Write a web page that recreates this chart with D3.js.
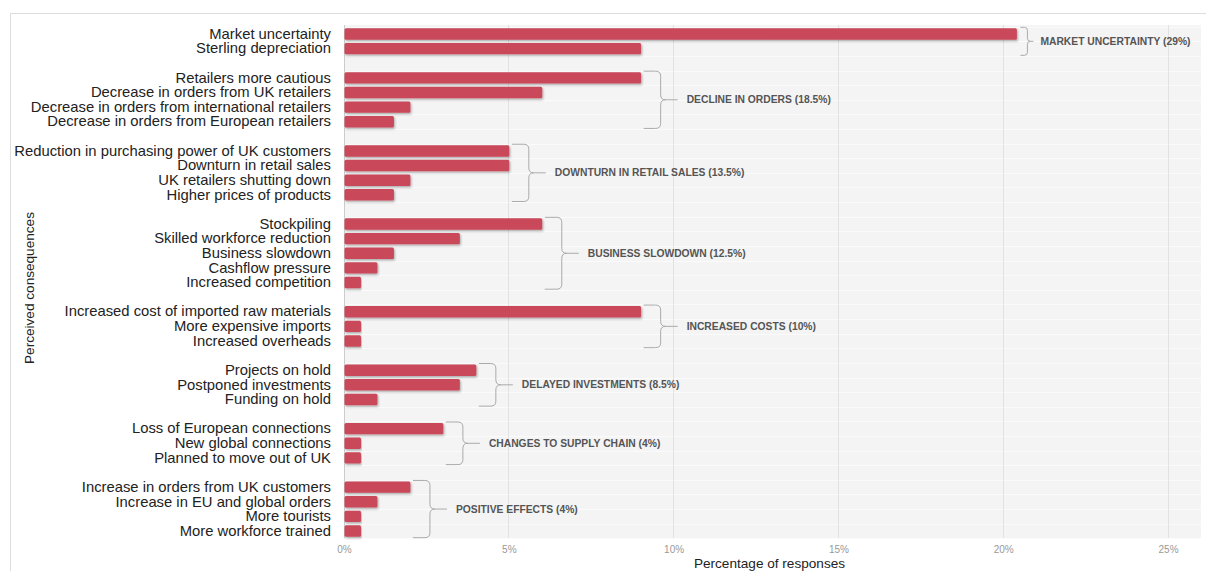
<!DOCTYPE html>
<html lang="en">
<head>
	<title>Perceived consequences</title>
	<meta charset="utf-8">
	<script src="https://d3js.org/d3.v7.min.js"></script>
	<style type="text/css">
		body {
			margin: 0;
			background: #fff;
			font-family: "Liberation Sans", Arial, sans-serif;
		}

		.group-label {
			font-size: 10.3px;
			font-weight: bold;
			fill: #555;
		}

		.tick text {
			font-size: 10px;
			fill: #999;
		}

		.tick line,
		path.domain {
			display: none;
		}

		.grid {
			stroke: #e2e2e2;
			stroke-width: 1;
			shape-rendering: crispEdges;
		}

		.brace {
			fill: none;
			stroke: #aaa;
			stroke-width: 1;
		}

		.axis-title {
			font-size: 13.6px;
			fill: #222;
		}
	</style>
</head>
<body>
	<div id="vis"></div>

	<script type="text/javascript">

		/* Data */
		/* ==== */

		var groupNames = [
			"MARKET UNCERTAINTY (29%)",
			"DECLINE IN ORDERS (18.5%)",
			"DOWNTURN IN RETAIL SALES (13.5%)",
			"BUSINESS SLOWDOWN (12.5%)",
			"INCREASED COSTS (10%)",
			"DELAYED INVESTMENTS (8.5%)",
			"CHANGES TO SUPPLY CHAIN (4%)",
			"POSITIVE EFFECTS (4%)"
		];

		var groupSizes = [2, 4, 4, 5, 3, 3, 3, 4];

		var categories = [
			"Market uncertainty", "Sterling depreciation",
			"Retailers more cautious", "Decrease in orders from UK retailers",
			"Decrease in orders from international retailers", "Decrease in orders from European retailers",
			"Reduction in purchasing power of UK customers", "Downturn in retail sales",
			"UK retailers shutting down", "Higher prices of products",
			"Stockpiling", "Skilled workforce reduction", "Business slowdown",
			"Cashflow pressure", "Increased competition",
			"Increased cost of imported raw materials", "More expensive imports", "Increased overheads",
			"Projects on hold", "Postponed investments", "Funding on hold",
			"Loss of European connections", "New global connections ", "Planned to move out of UK",
			"Increase in orders from UK customers", "Increase in EU and global orders",
			"More tourists", "More workforce trained"
		];

		var values = [
			20.4, 9,
			9, 6, 2, 1.5,
			5, 5, 2, 1.5,
			6, 3.5, 1.5, 1, 0.5,
			9, 0.5, 0.5,
			4, 3.5, 1,
			3, 0.5, 0.5,
			2, 1, 0.5, 0.5
		];

		var xTicks = [0, 5, 10, 15, 20, 25];


		/* Build rows, with an empty slot between groups */
		/* ---------------------------------------------- */

		var rows = [];
		var slots = [];
		var groups = [];
		var k = 0;
		groupSizes.forEach(function (n, g) {
			if (g > 0) slots.push('gap' + g);
			var grp = { name: groupNames[g], rows: [] };
			for (var i = 0; i < n; i++) {
				var r = { id: 'r' + k, label: categories[k], value: values[k], group: g };
				rows.push(r);
				slots.push(r.id);
				grp.rows.push(r);
				k++;
			}
			groups.push(grp);
		});


		/* Set up */
		/* ====== */

		var width = 1206, height = 571;
		var plot = { left: 344, right: 1201, top: 26.7, bottom: 538.3 };

		var svg = d3.select('#vis')
			.append('svg')
			.attr('width', width)
			.attr('height', height);

		var defs = svg.append('defs');
		var shadow = defs.append('filter')
			.attr('id', 'shadow')
			.attr('x', '-5%').attr('y', '-30%')
			.attr('width', '110%').attr('height', '170%');
		shadow.append('feDropShadow')
			.attr('dx', 1).attr('dy', 1.5)
			.attr('stdDeviation', 1)
			.attr('flood-color', '#000')
			.attr('flood-opacity', 0.3);

		/* Scales */

		var xScale = d3.scaleLinear()
			.domain([0, 26])
			.range([plot.left, plot.right]);

		var yScale = d3.scaleBand()
			.domain(slots)
			.range([plot.top, plot.bottom])
			.paddingInner(0.22)
			.paddingOuter(0.11);


		/* Frame and background */
		/* -------------------- */

		svg.append('line')
			.attr('x1', 10).attr('x2', width)
			.attr('y1', 13.5).attr('y2', 13.5)
			.attr('stroke', '#ddd');
		svg.append('line')
			.attr('x1', 10.5).attr('x2', 10.5)
			.attr('y1', 13).attr('y2', height)
			.attr('stroke', '#ddd');

		svg.append('rect')
			.attr('x', plot.left)
			.attr('y', plot.top - 1.5)
			.attr('width', plot.right - plot.left)
			.attr('height', plot.bottom - plot.top + 1.5)
			.attr('fill', '#f4f4f4');

		// faint row stripes
		svg.append('g')
			.selectAll('line')
			.data(slots)
			.enter()
			.append('line')
			.attr('x1', plot.left).attr('x2', plot.right)
			.attr('y1', function (d) { return Math.round(yScale(d) - yScale.step() * 0.11) + 0.5; })
			.attr('y2', function (d) { return Math.round(yScale(d) - yScale.step() * 0.11) + 0.5; })
			.attr('stroke', '#fbfbfb');

		svg.append('g')
			.selectAll('line')
			.data(xTicks)
			.enter()
			.append('line')
			.attr('class', 'grid')
			.attr('x1', function (d) { return xScale(d); })
			.attr('x2', function (d) { return xScale(d); })
			.attr('y1', plot.top - 1.5)
			.attr('y2', plot.bottom)
			.style('stroke', function (d) { return d === 0 ? '#ccc' : '#e2e2e2'; });


		/* Axes */
		/* ---- */

		var xAxis = d3.axisBottom(xScale)
			.tickValues(xTicks)
			.tickSize(0)
			.tickPadding(8)
			.tickFormat(function (d) { return d + '%'; });

		svg.append('g')
			.attr('class', 'x axis')
			.attr('transform', 'translate(0,' + plot.bottom + ')')
			.call(xAxis);

		var yAxis = d3.axisLeft(yScale)
			.tickSize(0)
			.tickPadding(13)
			.tickFormat(function (d) {
				var r = rows.find(function (x) { return x.id === d; });
				return r ? r.label : '';
			});

		var yAxisDraw = svg.append('g')
			.attr('class', 'y axis')
			.attr('transform', 'translate(' + plot.left + ',0)')
			.call(yAxis);

		yAxisDraw.selectAll('text')
			.style('font-size', '14.8px')
			.style('fill', '#222')
			.style('font-family', '"Liberation Sans", Arial, sans-serif');

		svg.append('text')
			.attr('class', 'axis-title')
			.attr('x', (plot.left + plot.right) / 2 - 3)
			.attr('y', 568)
			.attr('text-anchor', 'middle')
			.text('Percentage of responses');

		svg.append('text')
			.attr('class', 'axis-title')
			.attr('transform', 'translate(34,' + 288 + ') rotate(-90)')
			.attr('text-anchor', 'middle')
			.text('Perceived consequences');


		/* Bars */
		/* ---- */

		svg.append('g')
			.selectAll('rect')
			.data(rows)
			.enter()
			.append('rect')
			.attr('x', xScale(0) + 0.5)
			.attr('y', function (d) { return yScale(d.id); })
			.attr('width', function (d) { return xScale(d.value) - xScale(0); })
			.attr('height', yScale.bandwidth())
			.attr('rx', 1.5)
			.attr('fill', '#c9495a')
			.attr('filter', 'url(#shadow)');


		/* Group braces and labels */
		/* ----------------------- */

		var gBraces = svg.append('g');

		groups.forEach(function (grp) {
			var maxVal = d3.max(grp.rows, function (r) { return r.value; });
			var compact = maxVal > 19;
			var w = compact ? 7 : 17;
			var tick = compact ? 6 : 17;
			var gap = compact ? 7 : 9;
			var x0 = xScale(maxVal) + (compact ? 4 : 3);
			var y0 = yScale(grp.rows[0].id) - 1;
			var y1 = yScale(grp.rows[grp.rows.length - 1].id) + yScale.bandwidth() + 1;
			var ym = (y0 + y1) / 2;
			var r = compact ? 3 : 5;
			var xv = x0 + w;

			var p = d3.path();
			p.moveTo(x0, y0);
			p.lineTo(xv - r, y0);
			p.quadraticCurveTo(xv, y0, xv, y0 + r);
			p.lineTo(xv, ym - r);
			p.quadraticCurveTo(xv, ym, xv + r, ym);
			p.quadraticCurveTo(xv, ym, xv, ym + r);
			p.lineTo(xv, y1 - r);
			p.quadraticCurveTo(xv, y1, xv - r, y1);
			p.lineTo(x0, y1);

			gBraces.append('path')
				.attr('class', 'brace')
				.attr('d', p.toString());

			gBraces.append('line')
				.attr('class', 'brace')
				.attr('x1', xv + r).attr('x2', xv + tick)
				.attr('y1', ym).attr('y2', ym);

			gBraces.append('text')
				.attr('class', 'group-label')
				.attr('x', xv + tick + gap)
				.attr('y', ym)
				.attr('dy', '0.35em')
				.text(grp.name);
		});

	</script>
</body>
</html>
